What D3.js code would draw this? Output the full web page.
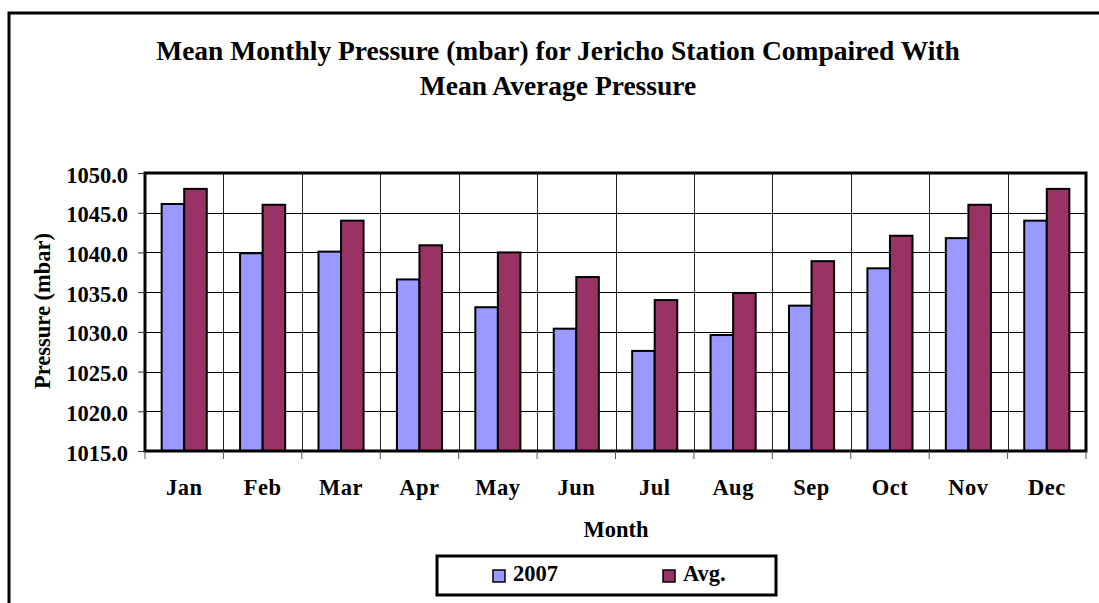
<!DOCTYPE html>
<html>
<head>
<meta charset="utf-8">
<script src="https://cdn.jsdelivr.net/npm/d3@7"></script>
<style>
  html, body { margin: 0; padding: 0; background: #fff; }
  svg { display: block; }
  text { font-family: "Liberation Serif", "Times New Roman", serif; font-weight: bold; fill: #000; }
</style>
</head>
<body>
<script>
const months = ["Jan","Feb","Mar","Apr","May","Jun","Jul","Aug","Sep","Oct","Nov","Dec"];
const seriesNames = ["2007", "Avg."];
const values2007 = [1046.1, 1039.9, 1040.1, 1036.6, 1033.1, 1030.4, 1027.6, 1029.6, 1033.3, 1038.0, 1041.8, 1044.0];
const valuesAvg  = [1048.0, 1046.0, 1044.0, 1040.9, 1040.0, 1036.9, 1034.0, 1034.9, 1038.9, 1042.1, 1046.0, 1048.0];
const yTicks = [1015, 1020, 1025, 1030, 1035, 1040, 1045, 1050];
const seriesColors = ["#9999FF", "#993366"];
const titleLines = ["Mean Monthly Pressure (mbar) for Jericho Station Compaired With", "Mean Average Pressure"];

const W = 1099, H = 603;
const plot = { left: 145, right: 1086, top: 173, bottom: 451 };

const svg = d3.select("body").append("svg").attr("width", W).attr("height", H);

// outer chart border (extends beyond the canvas to the right and bottom)
svg.append("rect").attr("x", 9).attr("y", 13).attr("width", 1200).attr("height", 700)
  .attr("fill", "none").attr("stroke", "#000").attr("stroke-width", 3);

// title
svg.selectAll("text.title").data(titleLines).enter().append("text")
  .attr("class", "title")
  .attr("x", 558).attr("y", (d, i) => 60 + i * 35)
  .attr("text-anchor", "middle").style("font-size", "27.5px")
  .text(d => d);

const x0 = d3.scaleBand().domain(months).range([plot.left, plot.right]).padding(0);
const groupW = x0.bandwidth() * 0.575;
const x1 = d3.scaleBand().domain(seriesNames).range([0, groupW]).padding(0);
const y = d3.scaleLinear().domain([1015, 1050]).range([plot.bottom, plot.top]);

// horizontal gridlines
svg.append("g").selectAll("line").data(yTicks).enter().append("line")
  .attr("x1", plot.left).attr("x2", plot.right)
  .attr("y1", d => Math.round(y(d)) + 0.5).attr("y2", d => Math.round(y(d)) + 0.5)
  .attr("stroke", "#000").attr("stroke-width", 1);

// vertical gridlines at category boundaries
svg.append("g").selectAll("line").data(months.slice(1)).enter().append("line")
  .attr("x1", d => Math.round(x0(d)) + 0.5).attr("x2", d => Math.round(x0(d)) + 0.5)
  .attr("y1", plot.top).attr("y2", plot.bottom)
  .attr("stroke", "#222").attr("stroke-width", 1);

// bars
const groups = svg.append("g").selectAll("g").data(months).enter().append("g")
  .attr("transform", d => `translate(${x0(d) + (x0.bandwidth() - groupW) / 2},0)`);
groups.selectAll("rect").data((d, i) => [
    { s: seriesNames[0], v: values2007[i], c: seriesColors[0] },
    { s: seriesNames[1], v: valuesAvg[i], c: seriesColors[1] }
  ]).enter().append("rect")
  .attr("x", d => x1(d.s)).attr("width", x1.bandwidth())
  .attr("y", d => y(d.v)).attr("height", d => y(1015) - y(d.v))
  .attr("fill", d => d.c).attr("stroke", "#000").attr("stroke-width", 2);

// plot area border
svg.append("rect").attr("x", plot.left).attr("y", plot.top)
  .attr("width", plot.right - plot.left).attr("height", plot.bottom - plot.top)
  .attr("fill", "none").attr("stroke", "#000").attr("stroke-width", 3);

// y axis
const yAxis = d3.axisLeft(y).tickValues(yTicks).tickSize(7).tickPadding(10).tickFormat(d3.format(".1f"));
const gy = svg.append("g").attr("transform", `translate(${plot.left},0)`).call(yAxis);
gy.select(".domain").remove();
gy.selectAll(".tick line").attr("stroke", "#333");
gy.selectAll(".tick text").style("font-size", "22.5px").attr("dy", "0.4em")
  .style("font-family", "'Liberation Serif', serif").style("font-weight", "bold");

// x axis
const xAxis = d3.axisBottom(x0).tickSize(0).tickPadding(30);
const gx = svg.append("g").attr("transform", `translate(0,${plot.bottom})`).call(xAxis);
gx.select(".domain").remove();
gx.selectAll(".tick text").style("font-size", "22.5px").attr("dy", "0")
  .style("font-family", "'Liberation Serif', serif").style("font-weight", "bold")
  .attr("y", 44).attr("letter-spacing", "0.5px");
// category boundary tick marks
svg.append("g").selectAll("line").data(months.concat(["end"])).enter().append("line")
  .attr("x1", (d, i) => i < months.length ? x0(d) : plot.right)
  .attr("x2", (d, i) => i < months.length ? x0(d) : plot.right)
  .attr("y1", plot.bottom).attr("y2", plot.bottom + 8)
  .attr("stroke", "#555").attr("stroke-width", 1);

// axis titles
svg.append("text").attr("x", 616).attr("y", 537).attr("text-anchor", "middle")
  .style("font-size", "22.5px").text("Month");
svg.append("text").attr("transform", "translate(50,311) rotate(-90)").attr("text-anchor", "middle")
  .style("font-size", "22.5px").text("Pressure (mbar)");

// legend
const lg = svg.append("g");
lg.append("rect").attr("x", 437).attr("y", 556).attr("width", 339).attr("height", 39)
  .attr("fill", "#fff").attr("stroke", "#000").attr("stroke-width", 3);
const legendX = [493, 663];
const li = lg.selectAll("g.item").data(seriesNames).enter().append("g").attr("class", "item")
  .attr("transform", (d, i) => `translate(${legendX[i]},570)`);
li.append("rect").attr("width", 12).attr("height", 12)
  .attr("fill", (d, i) => seriesColors[i]).attr("stroke", "#000").attr("stroke-width", 1.5);
li.append("text").attr("x", 20).attr("y", 11).style("font-size", "22.5px").text(d => d);
</script>
</body>
</html>
